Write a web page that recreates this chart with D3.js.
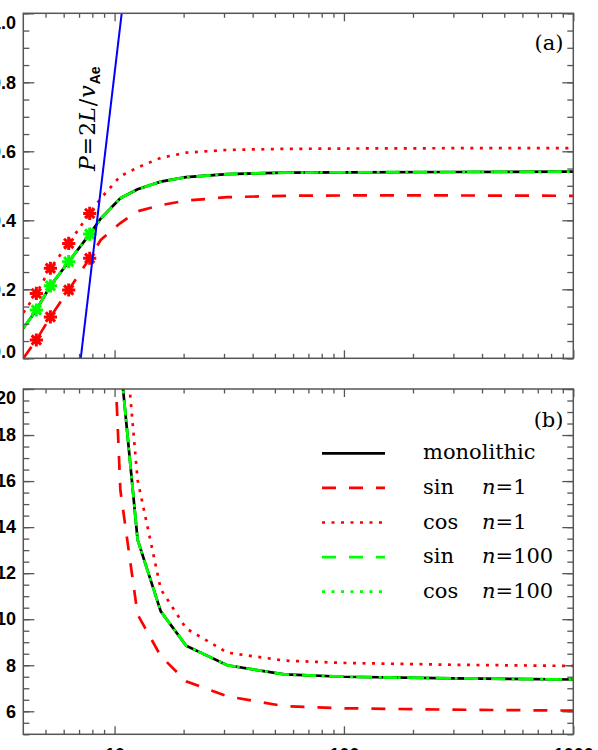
<!DOCTYPE html>
<html>
<head>
<meta charset="utf-8">
<script src="https://cdn.jsdelivr.net/npm/d3@7"></script>
<style>
  body { margin: 0; background: #fff; }
  svg { display: block; }
</style>
</head>
<body>
<svg></svg>
<script>
'use strict'

const width = 598
const height = 750

// x positions of the computed runs (log axis)
const periods = [4, 4.56, 5.25, 6.31, 7.79, 8.7, 10.6, 12.6, 15.9, 20.5, 31, 55, 100, 300, 1000]

// panel (a)
const aMono    = [0.087, 0.14, 0.21, 0.28, 0.36, 0.405, 0.464, 0.49, 0.512, 0.525, 0.534, 0.538, 0.539, 0.540, 0.541]
const aSinN1   = [0.0, 0.053, 0.12, 0.198, 0.29, 0.343, 0.392, 0.426, 0.444, 0.457, 0.467, 0.471, 0.472, 0.472, 0.471]
const aCosN1   = [0.132, 0.188, 0.261, 0.333, 0.42, 0.463, 0.528, 0.553, 0.581, 0.596, 0.604, 0.607, 0.608, 0.609, 0.609]
const aSinN100 = [0.087, 0.14, 0.21, 0.28, 0.36, 0.405, 0.464, 0.49, 0.512, 0.525, 0.534, 0.538, 0.539, 0.540, 0.541]
const aCosN100 = [0.087, 0.14, 0.21, 0.28, 0.36, 0.405, 0.464, 0.49, 0.512, 0.525, 0.534, 0.538, 0.539, 0.540, 0.541]

// panel (b)
const bMono    = [200, 150, 100, 70, 48, 35, 21.2, 13.45, 10.34, 8.85, 8.0, 7.6, 7.5, 7.43, 7.38]
const bSinN1   = [200, 150, 100, 70, 50, 36, 15.6, 10.2, 8.4, 7.3, 6.65, 6.22, 6.13, 6.07, 6.03]
const bCosN1   = [200, 150, 100, 70, 55, 40, 24.6, 16.05, 11.3, 9.6, 8.55, 8.2, 8.1, 8.02, 7.97]
const bSinN100 = [200, 150, 100, 70, 48, 35, 21.2, 13.45, 10.34, 8.85, 8.0, 7.6, 7.5, 7.43, 7.38]
const bCosN100 = [200, 150, 100, 70, 48, 35, 21.2, 13.45, 10.34, 8.85, 8.0, 7.6, 7.5, 7.43, 7.38]

// runs marked with asterisks in panel (a)
const starIdx = [1, 2, 3, 4]

// P = 2L/v_Ae line in panel (a)
const alfvenX = [7.12, 10.74]
const alfvenY = [0, 1]

// ticks
const xMajor = [10, 100, 1000]
const xMinor = [5, 6, 7, 8, 9, 20, 30, 40, 50, 60, 70, 80, 90, 200, 300, 400, 500, 600, 700, 800, 900]
const aMajor = [0, 0.2, 0.4, 0.6, 0.8, 1.0]
const bMajor = [6, 8, 10, 12, 14, 16, 18, 20]

const legendNames = ['monolithic', 'sin', 'cos', 'sin', 'cos']
const legendN = [null, '1', '1', '100', '100']

const RED = '#ff0000'
const GREEN = '#00ff00'
const DASH = '14,13'
const DOT = '3,6.5'
const frameColor = '#555'

const svg = d3.select('svg').attr('width', width).attr('height', height)

const x = d3.scaleLog().domain([4, 1000]).range([23.3, 573.3])
const yA = d3.scaleLinear().domain([0, 1]).range([358.3, 13.3])
const yB = d3.scaleLinear().domain([5, 20]).range([734.3, 389])

function series(vals) {
    return vals.map((v, i) => [periods[i], v])
}

function drawAxes(g, y, major, minor, fmt, bottomLabels) {
    const [x0, x1] = x.range()
    const [y0, y1] = y.range()
    const style = sel => {
        sel.select('.domain').remove()
        sel.selectAll('line').attr('stroke', frameColor).attr('stroke-width', 1.3)
    }

    g.append('g').attr('transform', `translate(${x0},0)`)
        .call(d3.axisLeft(y).tickValues(major).tickSize(-11).tickPadding(7.3).tickFormat(fmt))
        .call(style)
        .selectAll('text')
        .attr('font-family', '"Liberation Sans", Arial, sans-serif')
        .attr('font-weight', 'bold')
        .attr('font-size', 18)
        .attr('fill', '#000')
        .attr('y', d => Math.min(Math.max(y(d), y1 + 9), y0 - 7) - y(d))
    g.append('g').attr('transform', `translate(${x0},0)`)
        .call(d3.axisLeft(y).tickValues(minor).tickSize(-6).tickFormat(''))
        .call(style)
    g.append('g').attr('transform', `translate(${x1},0)`)
        .call(d3.axisRight(y).tickValues(major).tickSize(-11).tickFormat(''))
        .call(style)
    g.append('g').attr('transform', `translate(${x1},0)`)
        .call(d3.axisRight(y).tickValues(minor).tickSize(-6).tickFormat(''))
        .call(style)

    const bottom = g.append('g').attr('transform', `translate(0,${y0})`)
        .call(d3.axisBottom(x).tickValues(xMajor).tickSize(-8).tickPadding(14)
            .tickFormat(bottomLabels ? d3.format('d') : ''))
        .call(style)
    bottom.selectAll('text')
        .attr('font-family', '"Liberation Sans", Arial, sans-serif')
        .attr('font-weight', 'bold')
        .attr('font-size', 18)
        .attr('fill', '#000')
    g.append('g').attr('transform', `translate(0,${y0})`)
        .call(d3.axisBottom(x).tickValues(xMinor).tickSize(-4.5).tickFormat(''))
        .call(style)
    g.append('g').attr('transform', `translate(0,${y1})`)
        .call(d3.axisTop(x).tickValues(xMajor).tickSize(-8).tickFormat(''))
        .call(style)
    g.append('g').attr('transform', `translate(0,${y1})`)
        .call(d3.axisTop(x).tickValues(xMinor).tickSize(-4.5).tickFormat(''))
        .call(style)

    g.append('rect')
        .attr('x', x0).attr('y', y1)
        .attr('width', x1 - x0).attr('height', y0 - y1)
        .attr('fill', 'none')
        .attr('stroke', frameColor)
        .attr('stroke-width', 1.5)
}

function drawCurves(g, y, id, sets) {
    const [x0, x1] = x.range()
    const [y0, y1] = y.range()
    svg.append('defs').append('clipPath').attr('id', id)
        .append('rect').attr('x', x0).attr('y', y1).attr('width', x1 - x0).attr('height', y0 - y1)

    const line = d3.line().x(d => x(d[0])).y(d => y(d[1]))
    const c = g.append('g').attr('clip-path', `url(#${id})`)
    sets.forEach(s => {
        c.append('path')
            .datum(series(s.vals))
            .attr('d', line)
            .attr('fill', 'none')
            .attr('stroke', s.color)
            .attr('stroke-width', 2.7)
            .attr('stroke-dasharray', s.dash)
            .attr('stroke-dashoffset', s.offset || 0)
    })
    return c
}

function asterisk(r) {
    const k = r * 0.707
    return `M${-r},0L${r},0M0,${-r}L0,${r}M${-k},${-k}L${k},${k}M${-k},${k}L${k},${-k}`
}

// ---- panel (a)
const ga = svg.append('g')
const ca = drawCurves(ga, yA, 'clipA', [
    { vals: aMono, color: '#000', dash: null },
    { vals: aSinN1, color: RED, dash: DASH },
    { vals: aCosN1, color: RED, dash: DOT },
    { vals: aSinN100, color: GREEN, dash: DASH },
    { vals: aCosN100, color: GREEN, dash: DOT, offset: 14 }
])

const stars = [
    { vals: aSinN1, color: RED },
    { vals: aCosN1, color: RED },
    { vals: aSinN100, color: GREEN }
]
stars.forEach(s => {
    ca.selectAll(null)
        .data(starIdx)
        .enter()
        .append('path')
        .attr('transform', i => `translate(${x(periods[i])},${yA(s.vals[i])})`)
        .attr('d', asterisk(6.6))
        .attr('fill', 'none')
        .attr('stroke', s.color)
        .attr('stroke-width', 3)
})

ca.append('path')
    .datum(alfvenX.map((p, i) => [p, alfvenY[i]]))
    .attr('d', d3.line().x(d => x(d[0])).y(d => yA(d[1])))
    .attr('fill', 'none')
    .attr('stroke', '#0000ff')
    .attr('stroke-width', 2)

const lab = ga.append('text')
    .attr('transform', 'translate(95,171) rotate(-90)')
    .attr('font-family', '"DejaVu Serif", serif')
    .attr('font-size', 22)
    .attr('fill', '#000')
lab.append('tspan').attr('font-style', 'italic').text('P')
lab.append('tspan').attr('dx', 1).text('=')
lab.append('tspan').attr('dx', 1).text('2')
lab.append('tspan').attr('font-style', 'italic').text('L')
lab.append('tspan').attr('dx', 1).text('/')
lab.append('tspan').attr('dx', 1).attr('font-style', 'italic').text('v')
lab.append('tspan')
    .attr('dy', 5)
    .attr('dx', 1)
    .attr('font-family', '"Liberation Sans", Arial, sans-serif')
    .attr('font-weight', 'bold')
    .attr('font-size', 14)
    .text('Ae')

drawAxes(ga, yA, aMajor, d3.range(0, 1.001, 0.05), d3.format('.1f'), false)

ga.append('text')
    .attr('x', 563.5).attr('y', 50)
    .attr('text-anchor', 'end')
    .attr('font-family', '"DejaVu Serif", serif')
    .attr('font-size', 21)
    .text('(a)')

// ---- panel (b)
const gb = svg.append('g')
drawCurves(gb, yB, 'clipB', [
    { vals: bMono, color: '#000', dash: null },
    { vals: bSinN1, color: RED, dash: DASH },
    { vals: bCosN1, color: RED, dash: DOT },
    { vals: bSinN100, color: GREEN, dash: DASH },
    { vals: bCosN100, color: GREEN, dash: DOT, offset: 14 }
])

drawAxes(gb, yB, bMajor, d3.range(5, 20.001, 0.5), d3.format('d'), true)

gb.append('text')
    .attr('x', 563.5).attr('y', 427)
    .attr('text-anchor', 'end')
    .attr('font-family', '"DejaVu Serif", serif')
    .attr('font-size', 21)
    .text('(b)')

// legend
const legendStyles = [
    { color: '#000', dash: null },
    { color: RED, dash: DASH },
    { color: RED, dash: DOT },
    { color: GREEN, dash: DASH },
    { color: GREEN, dash: DOT }
]
const leg = gb.append('g')
legendNames.forEach((name, i) => {
    const ly = 453.3 + i * 34.6
    leg.append('line')
        .attr('x1', 322).attr('x2', 385)
        .attr('y1', ly).attr('y2', ly)
        .attr('stroke', legendStyles[i].color)
        .attr('stroke-width', 2.7)
        .attr('stroke-dasharray', legendStyles[i].dash)
    const t = leg.append('text')
        .attr('y', ly + 6)
        .attr('font-family', '"DejaVu Serif", serif')
        .attr('font-size', 21)
        .attr('fill', '#000')
    t.append('tspan').attr('x', 423).text(name)
    if (legendN[i]) {
        t.append('tspan').attr('x', 482).attr('font-style', 'italic').text('n')
        t.append('tspan').text('=' + legendN[i])
    }
})
</script>
</body>
</html>
